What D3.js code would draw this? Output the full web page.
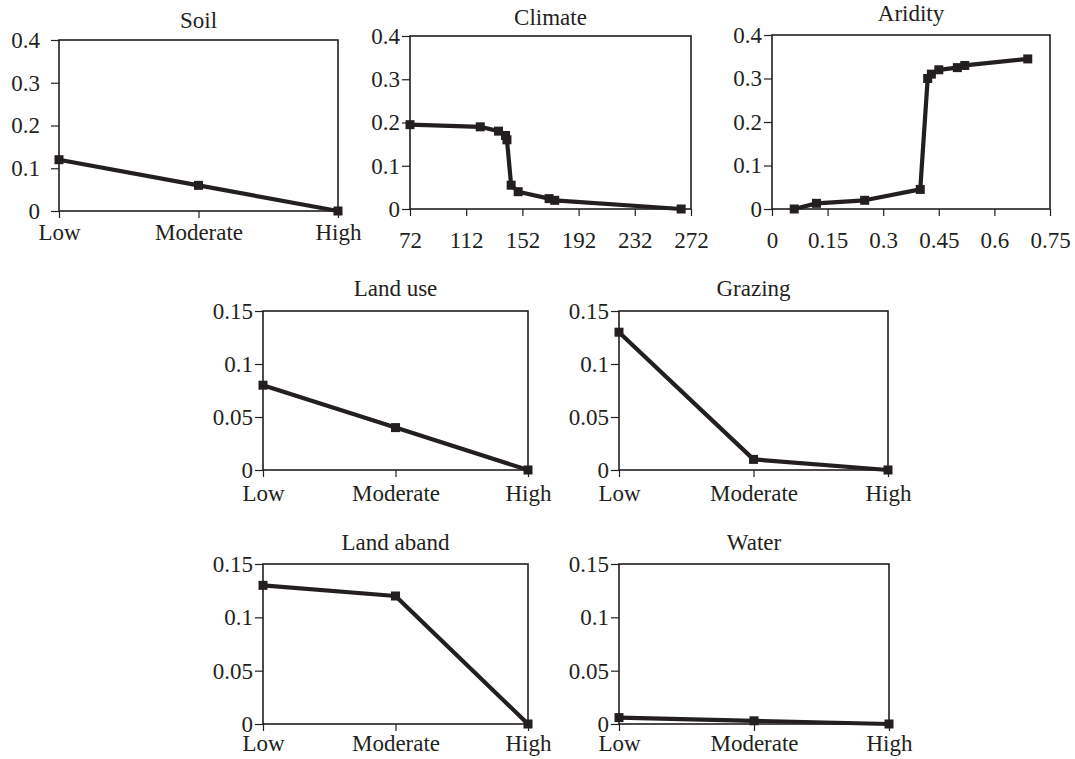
<!DOCTYPE html>
<html>
<head>
<meta charset="utf-8">
<script src="https://cdn.jsdelivr.net/npm/d3@7/dist/d3.min.js"></script>
<style>
  body { margin: 0; background: #fff; }
  text { font-family: "Liberation Serif", "Times New Roman", serif; fill: #231f20; }
</style>
</head>
<body>
<div id="chart"></div>
<script>
// data
var levels = ["Low", "Moderate", "High"];

var soilValues = [0.12, 0.06, 0];

var climateX = [72, 122, 135, 140, 141, 144, 149, 171, 175, 265];
var climateY = [0.195, 0.19, 0.18, 0.17, 0.16, 0.055, 0.04, 0.024, 0.02, 0];
var climateTicks = [72, 112, 152, 192, 232, 272];

var aridityX = [0.06, 0.12, 0.25, 0.40, 0.42, 0.43, 0.45, 0.50, 0.52, 0.69];
var aridityY = [0, 0.013, 0.02, 0.045, 0.30, 0.31, 0.32, 0.325, 0.33, 0.345];
var aridityTicks = [0, 0.15, 0.3, 0.45, 0.6, 0.75];

var landUseValues = [0.08, 0.04, 0];
var grazingValues = [0.13, 0.01, 0];
var landAbandValues = [0.13, 0.12, 0];
var waterValues = [0.006, 0.003, 0];

var topYTicks = [0, 0.1, 0.2, 0.3, 0.4];
var bottomYTicks = [0, 0.05, 0.1, 0.15];

(function(){
  var width = 1075,
    height = 759;

  var svg = d3.select("#chart")
    .append("svg")
    .attr("width", width)
    .attr("height", height);

  var ink = "#231f20";
  var fs = 23;

  // one entry per small panel
  var panels = [
    {title: "Soil", l: 59, r: 338, t: 40, b: 211, ty: 28, kind: "cat", y: soilValues, yTicks: topYTicks, yMax: 0.4, pad: 11, xpad: 6},
    {title: "Climate", l: 410, r: 691, t: 36, b: 209, ty: 25, kind: "num", x: climateX, y: climateY, xDomain: [72, 272], xTicks: climateTicks, yTicks: topYTicks, yMax: 0.4, pad: 2},
    {title: "Aridity", l: 772, r: 1050, t: 35, b: 209, ty: 21, kind: "num", x: aridityX, y: aridityY, xDomain: [0, 0.75], xTicks: aridityTicks, yTicks: topYTicks, yMax: 0.4, pad: 2},
    {title: "Land use", l: 263, r: 528, t: 311, b: 470, ty: 296, kind: "cat", y: landUseValues, yTicks: bottomYTicks, yMax: 0.15, pad: 2, xpad: 8},
    {title: "Grazing", l: 619, r: 888, t: 311, b: 470, ty: 296, kind: "cat", y: grazingValues, yTicks: bottomYTicks, yMax: 0.15, pad: 2, xpad: 8},
    {title: "Land aband", l: 263, r: 528, t: 564, b: 724, ty: 550, kind: "cat", y: landAbandValues, yTicks: bottomYTicks, yMax: 0.15, pad: 2, xpad: 4},
    {title: "Water", l: 619, r: 889, t: 564, b: 724, ty: 550, kind: "cat", y: waterValues, yTicks: bottomYTicks, yMax: 0.15, pad: 2, xpad: 4}
  ];

  panels.forEach(function(p){
    var g = svg.append("g");

    var yScale = d3.scaleLinear().domain([0, p.yMax]).range([p.b, p.t]);
    var xScale, pts;
    if (p.kind === "cat") {
      xScale = d3.scalePoint().domain(levels).range([p.l, p.r]).padding(0);
      pts = levels.map(function(c, i){ return {x: c, y: p.y[i]}; });
    } else {
      xScale = d3.scaleLinear().domain(p.xDomain).range([p.l, p.r]);
      pts = p.x.map(function(v, i){ return {x: v, y: p.y[i]}; });
    }

    // frame
    g.append("rect")
      .attr("x", p.l).attr("y", p.t)
      .attr("width", p.r - p.l).attr("height", p.b - p.t)
      .attr("fill", "none")
      .attr("stroke", ink)
      .attr("stroke-width", 1.6);

    // y axis
    var yAxis = g.append("g")
      .attr("transform", "translate(" + p.l + ",0)")
      .call(d3.axisLeft(yScale).tickValues(p.yTicks).tickFormat(function(d){ return String(d); }).tickSize(8).tickPadding(p.pad));
    yAxis.select(".domain").remove();
    yAxis.selectAll("line").attr("stroke", ink).attr("stroke-width", 1.2);
    yAxis.selectAll("text")
      .attr("font-size", fs)
      .attr("font-family", "Liberation Serif")
      .attr("fill", ink);

    // x axis
    var xAx = d3.axisBottom(xScale).tickSize(7);
    if (p.kind === "num") {
      xAx.tickValues(p.xTicks).tickFormat(function(d){ return String(d); }).tickPadding(16);
    } else {
      xAx.tickPadding(p.xpad);
    }
    var xAxis = g.append("g")
      .attr("transform", "translate(0," + p.b + ")")
      .call(xAx);
    xAxis.select(".domain").remove();
    xAxis.selectAll("line").attr("stroke", ink).attr("stroke-width", 1.2);
    xAxis.selectAll("text")
      .attr("font-size", fs)
      .attr("font-family", "Liberation Serif")
      .attr("fill", ink);

    // title
    g.append("text")
      .attr("x", (p.l + p.r) / 2)
      .attr("y", p.ty)
      .attr("text-anchor", "middle")
      .attr("font-size", fs)
      .text(p.title);

    // line
    var line = d3.line()
      .x(function(d){ return xScale(d.x); })
      .y(function(d){ return yScale(d.y); });

    g.append("path")
      .datum(pts)
      .attr("d", line)
      .attr("fill", "none")
      .attr("stroke", ink)
      .attr("stroke-width", 4.2)
      .attr("stroke-linejoin", "round");

    // square markers
    g.selectAll(".mark")
      .data(pts)
      .enter().append("rect")
      .attr("class", "mark")
      .attr("x", function(d){ return xScale(d.x) - 4.5; })
      .attr("y", function(d){ return yScale(d.y) - 4.5; })
      .attr("width", 9)
      .attr("height", 9)
      .attr("fill", ink);
  });

})();
</script>
</body>
</html>
